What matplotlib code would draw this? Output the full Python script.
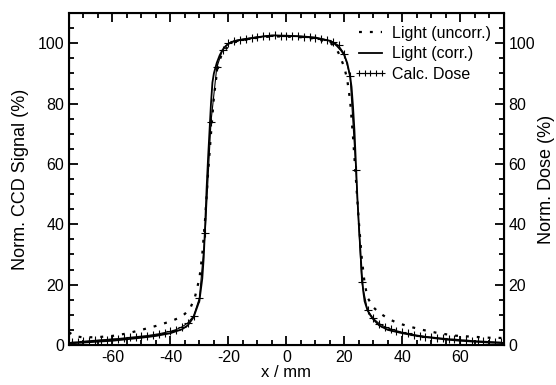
import matplotlib
matplotlib.use('Agg')
import matplotlib.pyplot as plt
from matplotlib.ticker import MultipleLocator

plt.rcParams['font.family'] = ['Liberation Sans', 'DejaVu Sans']
plt.rcParams['font.size'] = 11
plt.rcParams['axes.unicode_minus'] = False

# light, uncorrected (dotted)
x_unc = [-75, -73, -70, -65, -60, -55, -50, -45, -40, -37, -35, -33, -31.5, -30, -29, -28, -27, -26,
         -25, -24, -23, -22, -20, -18, -15, -10, -5, 0, 5, 10, 15, 17, 18, 19, 20, 21, 22, 23, 24,
         25, 26, 27, 28, 30, 32, 35, 38, 42, 47, 52, 58, 63, 70, 75]
y_unc = [4.2, 2.9, 2.5, 2.6, 3.0, 3.8, 5.0, 6.3, 7.8, 9.0, 10.3, 12.5, 16, 22, 30, 42, 57, 70,
         82, 90, 94.5, 96.8, 99.0, 100.3, 101.0, 101.8, 102.3, 102.2, 102.0, 101.5, 100.3, 98.5, 96.8,
         94.5, 92, 88, 81, 69, 55, 41, 29, 20.5, 15.7, 12.5, 10.7, 8.8, 7.4, 6.2, 5.0, 4.0, 3.1, 2.8,
         2.4, 2.3]

# light, corrected (solid)
x_cor = [-75, -70, -65, -60, -55, -50, -45, -40, -36, -34, -32, -30, -29, -28.5, -28, -27.5, -27,
         -26.5, -26, -25.5, -25, -24, -23, -22, -21, -20, -18, -16, -10, -5, 0, 5, 10, 15, 17, 19,
         20, 21, 22, 22.5, 23, 23.5, 24, 24.5, 25, 25.5, 26, 26.5, 27, 28, 29, 30, 32, 35, 40, 45,
         50, 55, 60, 65, 70, 75]
y_cor = [0.5, 0.8, 1.1, 1.4, 1.9, 2.4, 3.0, 3.9, 5.2, 6.5, 9.2, 14.6, 22, 29, 40, 52, 62,
         71, 80, 87, 90, 93.5, 96, 97.8, 99.0, 99.8, 100.7, 101.1, 102.0, 102.6, 102.5, 102.3, 101.9,
         100.8, 99.6, 97.5, 96, 93.5, 89, 85.5, 79, 71, 60, 49, 40, 32, 24, 18, 14.5, 11.5, 9.8, 8.5,
         6.5, 5.0, 3.9, 3.0, 2.4, 1.8, 1.4, 1.1, 0.8, 0.6]

# calculated dose (line with crosses, 2 mm grid)
x_dose = [-74, -72, -70, -68, -66, -64, -62, -60, -58, -56, -54, -52, -50, -48, -46, -44, -42, -40,
          -38, -36, -34, -32, -30, -28, -26, -24, -22, -20, -18, -16, -14, -12, -10, -8, -6, -4, -2,
          0, 2, 4, 6, 8, 10, 12, 14, 16, 18, 20, 22, 24, 26, 28, 30, 32, 34, 36, 38, 40, 42, 44,
          46, 48, 50, 52, 54, 56, 58, 60, 62, 64, 66, 68, 70, 72, 74]
y_dose = [0.9, 1.0, 1.2, 1.4, 1.5, 1.7, 1.8, 2.0, 2.1, 2.3, 2.5, 2.7, 2.9, 3.1, 3.4, 3.7, 4.1, 4.5,
          5.1, 6.0, 7.3, 9.6, 15.5, 37, 74, 92, 97.8, 100.0, 100.8, 101.2, 101.5, 101.8, 102.1, 102.3,
          102.5, 102.6, 102.5, 102.4, 102.4, 102.3, 102.2, 102.0, 101.8, 101.5, 101.1, 100.5, 99.3,
          96.5, 89, 58, 21, 11.5, 8.8, 7.1, 6.0, 5.3, 4.7, 4.2, 3.8, 3.4, 3.1, 2.8, 2.6, 2.4, 2.2,
          2.0, 1.9, 1.7, 1.6, 1.4, 1.3, 1.2, 1.1, 1.0, 0.9]

fig = plt.figure(figsize=(5.56, 3.85), dpi=100)
ax = fig.add_axes([0.124, 0.104, 0.782, 0.862])

ax.plot(x_unc, y_unc, color='black', lw=1.6, linestyle=(0, (1.3, 3.6)), label='Light (uncorr.)')
ax.plot(x_cor, y_cor, color='black', lw=1.3, label='Light (corr.)')
ax.plot(x_dose, y_dose, color='black', lw=0.8, marker='+', markersize=5.5, markeredgewidth=0.8,
        label='Calc. Dose')

ax.set_xlim(-75, 75)
ax.set_ylim(0, 110)
ax.xaxis.set_major_locator(MultipleLocator(20))
ax.xaxis.set_minor_locator(MultipleLocator(5))
ax.yaxis.set_major_locator(MultipleLocator(20))
ax.yaxis.set_minor_locator(MultipleLocator(5))
ax.tick_params(which='both', direction='in', top=True, right=True, width=1.3, labelsize=11.5)
ax.tick_params(which='major', length=6.5)
ax.tick_params(which='minor', length=3.5)
for s in ax.spines.values():
    s.set_linewidth(1.5)

ax.set_xlabel('x / mm', labelpad=0, fontsize=12)
ax.set_ylabel('Norm. CCD Signal (%)', labelpad=6, fontsize=13)

ax2 = ax.twinx()
ax2.set_ylim(0, 110)
ax2.yaxis.set_major_locator(MultipleLocator(20))
ax2.yaxis.set_minor_locator(MultipleLocator(5))
ax2.tick_params(which='both', direction='in', width=1.3, labelsize=11.5)
ax2.tick_params(which='major', length=6.5)
ax2.tick_params(which='minor', length=3.5)
ax2.set_ylabel('Norm. Dose (%)', labelpad=2, fontsize=13)

leg = ax.legend(loc='upper right', frameon=False, handlelength=2.0, handletextpad=0.35,
                labelspacing=0.35, borderaxespad=0.4, numpoints=5, markerscale=0.75,
                fontsize=11.5)

fig.savefig('out.png', dpi=100)
